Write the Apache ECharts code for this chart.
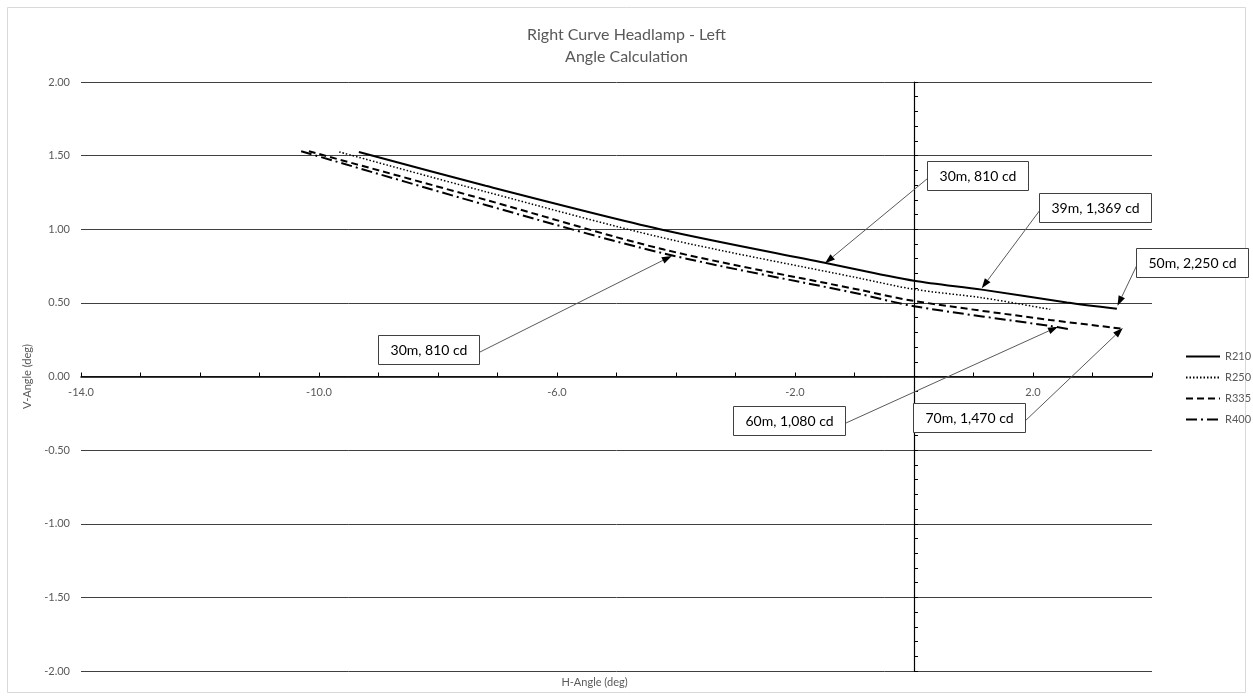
<!DOCTYPE html>
<html>
<head>
<meta charset="utf-8">
<script src="https://cdn.jsdelivr.net/npm/echarts@6/dist/echarts.min.js"></script>
<style>html,body{margin:0;padding:0;background:#fff}#c{width:1253px;height:700px}</style>
</head>
<body>
<div id="c"></div>
<script>
// ---- data ----
const seriesNames = ['R210', 'R250', 'R335', 'R400'];
const r210H = [-9.33, -7.2, -4.27, -1.5, 0, 1.14, 2.57, 3.41];
const r210V = [1.525, 1.295, 1.0, 0.772, 0.65, 0.59, 0.503, 0.46];
const r250H = [-9.66, -7.2, -4.2, -0.91, 0, 1.14, 2.29];
const r250V = [1.525, 1.255, 0.94, 0.667, 0.592, 0.535, 0.456];
const r335H = [-10.17, -7.2, -4.2, -0.91, 0, 2.29, 3.5];
const r335V = [1.53, 1.2, 0.862, 0.588, 0.513, 0.384, 0.325];
const r400H = [-10.3, -7.2, -4.2, -0.91, 0, 2.29, 2.6];
const r400V = [1.53, 1.165, 0.835, 0.56, 0.477, 0.343, 0.322];
const xTickLabels = [-14, -10, -6, -2, 2];
const annTexts = ['30m, 810 cd', '39m, 1,369 cd', '50m, 2,250 cd', '30m, 810 cd', '60m, 1,080 cd', '70m, 1,470 cd'];
const annTargetH = [-1.496, 1.138, 3.42, -4.07, 2.42, 3.51];
const annTargetV = [0.769, 0.599, 0.48, 0.819, 0.338, 0.329];
const annBoxH = [1.067, 3.045, 4.67, -8.163, -2.106, 0.924];
const annBoxV = [1.365, 1.146, 0.771, 0.185, -0.297, -0.279];

// ---- chart ----
const FONT = 'Lato, "Liberation Sans", sans-serif';
const zip = (h, v) => h.map((x, i) => [x, v[i]]);
const lineStyles = [
  { color: '#000', type: 'solid', width: 2 },
  { color: '#000', type: [1.5, 2], width: 1.5 },
  { color: '#000', type: [7, 4], width: 2 },
  { color: '#000', type: [11, 4, 2, 4], width: 2 }
];
const seriesData = [zip(r210H, r210V), zip(r250H, r250V), zip(r335H, r335V), zip(r400H, r400V)];

const chart = echarts.init(document.getElementById('c'));
const option = {
  animation: false,
  backgroundColor: '#fff',
  textStyle: { fontFamily: FONT },
  title: {
    text: 'Right Curve Headlamp - Left\nAngle Calculation',
    left: 'center', top: 19,
    textStyle: { fontSize: 16, fontWeight: 'normal', color: '#595959', lineHeight: 22, fontFamily: FONT }
  },
  legend: {
    orient: 'vertical', left: 1180, top: 346,
    itemWidth: 34, itemHeight: 12, itemGap: 10,
    itemStyle: { opacity: 0 },
    textStyle: { fontSize: 11, color: '#595959', fontFamily: FONT },
    data: seriesNames
  },
  grid: { left: 81, right: 101, top: 82, bottom: 29 },
  xAxis: [
    {
      type: 'value', min: -14, max: 4, interval: 1, position: 'bottom',
      axisLine: { onZero: false, lineStyle: { color: '#000', width: 1.5 } },
      axisTick: { inside: true, length: 4, lineStyle: { color: '#000' } },
      axisLabel: {
        formatter: v => (xTickLabels.indexOf(v) >= 0 ? v.toFixed(1) : ''),
        color: '#595959', fontSize: 11, margin: 10, fontFamily: FONT
      },
      splitLine: { show: false }
    },
    {
      type: 'value', position: 'bottom', min: -14, max: 4,
      axisLine: { show: false, onZero: false }, axisTick: { show: false },
      axisLabel: { show: false }, splitLine: { show: false },
      name: 'H-Angle (deg)', nameLocation: 'middle', nameGap: 6,
      nameTextStyle: { color: '#595959', fontSize: 11, padding: [0, 44, 0, 0], fontFamily: FONT }
    }
  ],
  yAxis: [
    {
      type: 'value', min: -2, max: 2, interval: 0.5, position: 'left',
      axisLine: { show: false, onZero: false }, axisTick: { show: false },
      axisLabel: { formatter: v => v.toFixed(2), color: '#595959', fontSize: 11, margin: 11, fontFamily: FONT },
      splitLine: { show: true, lineStyle: { color: '#404040', width: 1 } },
      name: 'V-Angle (deg)', nameLocation: 'middle', nameGap: 31,
      nameTextStyle: { color: '#595959', fontSize: 11, fontFamily: FONT }
    },
    {
      type: 'value', min: -2, max: 2, interval: 0.1, position: 'left',
      axisLine: { show: true, onZero: true, lineStyle: { color: '#000', width: 1.2 } },
      axisTick: { inside: true, length: 4, lineStyle: { color: '#000' } },
      axisLabel: { show: false }, splitLine: { show: false }
    }
  ],
  series: seriesNames.map((n, i) => ({
    name: n, type: 'line', xAxisIndex: 0, yAxisIndex: 0,
    data: seriesData[i], showSymbol: false, symbol: 'none',
    smooth: 0.3, lineStyle: lineStyles[i], itemStyle: { color: '#000' }
  }))
};
chart.setOption(option);

// move the x axis (line, ticks, labels) to V = 0 using the y scale
const yZeroPx = chart.convertToPixel({ yAxisIndex: 0 }, 0);
const yBottomPx = chart.convertToPixel({ yAxisIndex: 0 }, -2);
chart.setOption({ xAxis: [{ offset: yZeroPx - yBottomPx }, {}] });

// ---- annotations (boxes + arrows) placed through the axes ----
const measureCtx = document.createElement('canvas').getContext('2d');
const annFont = '14px ' + FONT;
measureCtx.font = annFont;
const els = [];
const boxEls = [];
annTexts.forEach((t, i) => {
  const tip = chart.convertToPixel({ xAxisIndex: 0, yAxisIndex: 0 }, [annTargetH[i], annTargetV[i]]);
  const c = chart.convertToPixel({ xAxisIndex: 0, yAxisIndex: 0 }, [annBoxH[i], annBoxV[i]]);
  const bw = Math.round(measureCtx.measureText(t).width + 24);
  const bh = 29;
  const bx = Math.round(c[0] - bw / 2) + 0.5, by = Math.round(c[1] - bh / 2) + 0.5;
  const sx = tip[0] > c[0] ? bx + bw : bx;
  const sy = c[1] + 3;
  const dx = tip[0] - sx, dy = tip[1] - sy;
  const len = Math.sqrt(dx * dx + dy * dy);
  const ux = dx / len, uy = dy / len, nx = -uy, ny = ux;
  const L = 10, W = 7;
  const bxp = tip[0] - ux * L, byp = tip[1] - uy * L;
  els.push({
    type: 'line', silent: true, z: 100,
    shape: { x1: sx, y1: sy, x2: bxp, y2: byp },
    style: { stroke: '#595959', lineWidth: 1 }
  });
  els.push({
    type: 'polygon', silent: true, z: 101,
    shape: { points: [[tip[0], tip[1]], [bxp + nx * W / 2, byp + ny * W / 2], [bxp - nx * W / 2, byp - ny * W / 2]] },
    style: { fill: '#000' }
  });
  boxEls.push({
    type: 'rect', silent: true, z: 102,
    shape: { x: bx, y: by, width: bw, height: bh },
    style: { fill: '#fff', stroke: '#404040', lineWidth: 1 }
  });
  boxEls.push({
    type: 'text', silent: true, z: 103,
    style: { text: t, x: bx + bw / 2, y: by + bh / 2, align: 'center', verticalAlign: 'middle', font: annFont, fill: '#000' }
  });
});
els.push({
  type: 'rect', silent: true, z: 0,
  shape: { x: 7.5, y: 7.5, width: 1238, height: 685 },
  style: { fill: 'none', stroke: '#d9d9d9', lineWidth: 1 }
});
chart.setOption({ graphic: els.concat(boxEls) });
</script>
</body>
</html>
